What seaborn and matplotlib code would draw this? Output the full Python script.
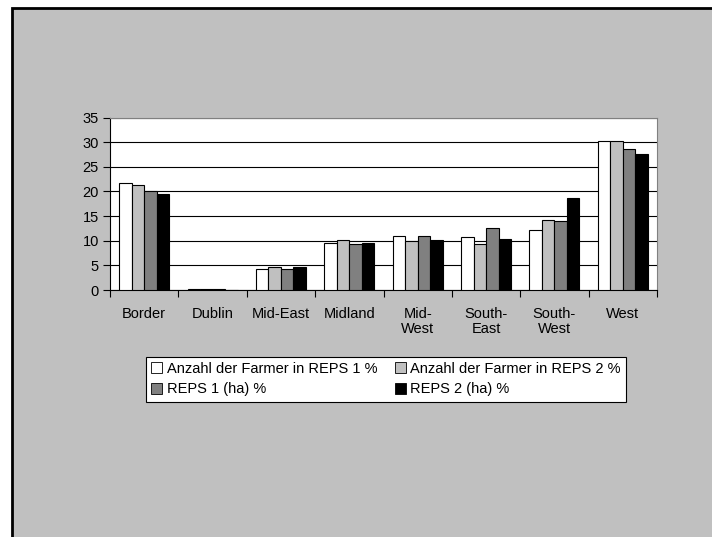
import matplotlib
matplotlib.use("Agg")
import matplotlib.pyplot as plt
from matplotlib.patches import Rectangle, Patch
import seaborn as sns
import pandas as pd

regions = ["Border", "Dublin", "Mid-East", "Midland", "Mid-\nWest", "South-\nEast", "South-\nWest", "West"]
series = ["Anzahl der Farmer in REPS 1 %", "Anzahl der Farmer in REPS 2 %", "REPS 1 (ha) %", "REPS 2 (ha) %"]
farmer_reps1 = [21.8, 0.3, 4.3, 9.5, 11.0, 10.7, 12.2, 30.3]
farmer_reps2 = [21.4, 0.3, 4.7, 10.1, 9.9, 9.3, 14.2, 30.3]
reps1_ha = [20.1, 0.3, 4.3, 9.3, 11.0, 12.6, 13.9, 28.7]
reps2_ha = [19.5, 0.1, 4.7, 9.5, 10.1, 10.3, 18.6, 27.5]
colors = ["#FFFFFF", "#C0C0C0", "#808080", "#000000"]
yticks = [0, 5, 10, 15, 20, 25, 30, 35]

rows = []
for s, vals in zip(series, [farmer_reps1, farmer_reps2, reps1_ha, reps2_ha]):
    for r, v in zip(regions, vals):
        rows.append({"Region": r, "Series": s, "Value": v})
df = pd.DataFrame(rows)

sns.set_style("white")
plt.rcParams["font.family"] = ["Liberation Sans", "DejaVu Sans"]
plt.rcParams["text.color"] = "black"
plt.rcParams["xtick.color"] = "black"
plt.rcParams["ytick.color"] = "black"

fig = plt.figure(figsize=(7.12, 5.37), dpi=100, facecolor="white")
fig.patches.append(Rectangle((12 / 712, -0.1), 1.2, 1.1 - 8 / 537, transform=fig.transFigure,
                             facecolor="#C0C0C0", edgecolor="black", linewidth=2.0, zorder=-10))

ax = fig.add_axes([110 / 712, 1 - 290 / 537, 547 / 712, 172.5 / 537])
ax.set_facecolor("white")
sns.barplot(data=df, x="Region", y="Value", hue="Series", palette=colors,
            edgecolor="black", linewidth=0.8, width=0.73, gap=0, ax=ax,
            legend=False, zorder=3)

ax.set_ylim(0, 35)
ax.set_xlim(-0.5, len(regions) - 0.5)
ax.set_yticks(yticks)
ax.yaxis.grid(True, color="black", linewidth=0.8, zorder=0)
ax.set_axisbelow(True)
ax.set_xlabel("")
ax.set_ylabel("")

fs = 10.5
ax.set_xticks(range(len(regions)))
ax.set_xticklabels(regions, fontsize=fs, linespacing=1.1, color="black")
ax.set_xticks([i - 0.5 for i in range(len(regions) + 1)], minor=True)
ax.tick_params(axis="x", which="major", length=0, pad=12)
ax.tick_params(axis="x", which="minor", length=5, width=0.8, direction="out", color="black", bottom=True)
ax.tick_params(axis="y", length=5, width=0.8, direction="out", color="black", left=True,
               labelsize=fs, labelcolor="black", pad=3)

for side in ["top", "right"]:
    ax.spines[side].set_color("#808080")
    ax.spines[side].set_linewidth(0.8)
for side in ["left", "bottom"]:
    ax.spines[side].set_color("black")
    ax.spines[side].set_linewidth(0.8)

handles = [Patch(facecolor=c, edgecolor="black", linewidth=0.6) for c in colors]
order = [0, 2, 1, 3]
leg = fig.legend([handles[i] for i in order], [series[i] for i in order], ncol=2,
                 loc="center", bbox_to_anchor=(0.542, 0.294), fontsize=fs,
                 frameon=True, fancybox=False, handlelength=0.75, handleheight=0.75,
                 handletextpad=0.3, columnspacing=1.2, borderpad=0.35, labelspacing=0.45,
                 borderaxespad=0, labelcolor="black")
leg.get_frame().set_edgecolor("black")
leg.get_frame().set_linewidth(0.8)
leg.get_frame().set_facecolor("white")
leg.get_frame().set_alpha(1)

fig.savefig("out.png", dpi=100, facecolor=fig.get_facecolor())
